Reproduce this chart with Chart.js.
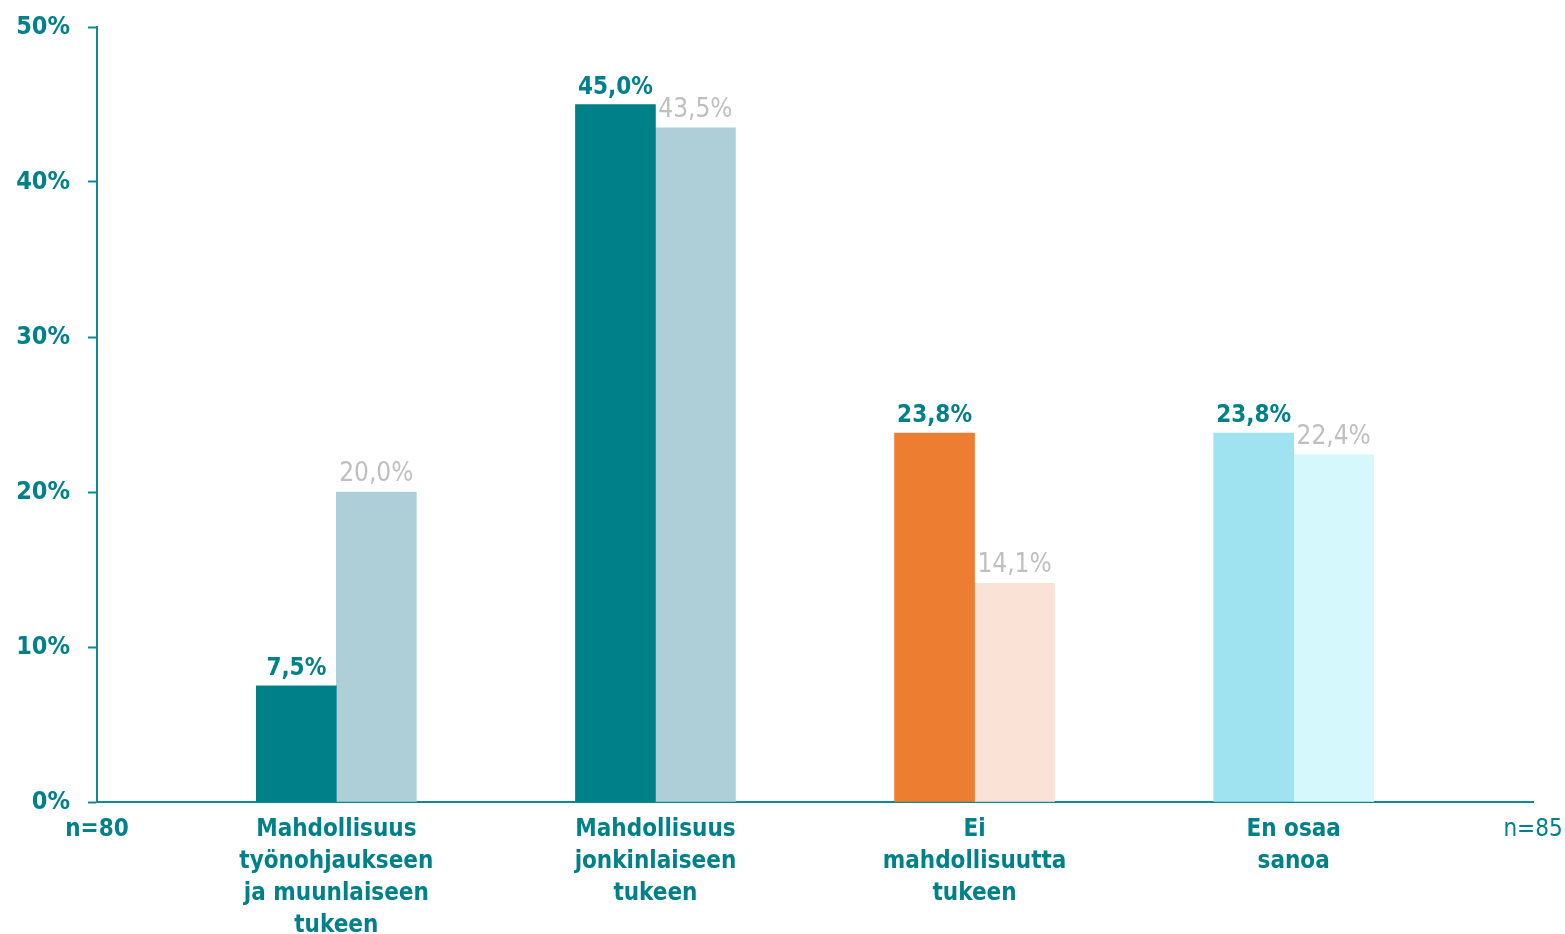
<!DOCTYPE html>
<html>
<head>
<meta charset="utf-8">
<script src="https://cdn.jsdelivr.net/npm/chart.js@4.4.1/dist/chart.umd.min.js"></script>
<style>
    body { margin: 0; background: #fff; }
    #wrap { width: 1565px; height: 934px; position: relative; }
</style>
</head>
<body>
<div id="wrap"><canvas id="chart"></canvas></div>
<script>
// Data
const categories = [
    ['Mahdollisuus', 'työnohjaukseen', 'ja muunlaiseen', 'tukeen'],
    ['Mahdollisuus', 'jonkinlaiseen', 'tukeen'],
    ['Ei', 'mahdollisuutta', 'tukeen'],
    ['En osaa', 'sanoa']
];
const groupA = [7.5, 45.0, 23.8, 23.8];   // n=80
const groupB = [20.0, 43.5, 14.1, 22.4];  // n=85
const groupLabels = ['n=80', 'n=85'];
const yTicks = [0, 10, 20, 30, 40, 50];

const TEAL = '#00818A';
const AXIS = '#13878F';
const GREY = '#BFBFBF';
const FONT = "'DejaVu Sans Condensed', 'Liberation Sans', Arial, sans-serif";

const colorsA = [TEAL, TEAL, '#ED7D31', '#9FE2F0'];
const colorsB = ['#AECFD8', '#AECFD8', '#FBE2D6', '#D5F8FC'];

const xPos = categories.map((c, i) => i + 1);
const xMin = 0.25, xMax = 4.75;

// Value labels above bars
const valueLabels = {
    id: 'valueLabels',
    afterDatasetsDraw(chart) {
        const ctx = chart.ctx;
        ctx.save();
        ctx.textAlign = 'center';
        ctx.textBaseline = 'bottom';
        chart.data.datasets.forEach((ds, di) => {
            const meta = chart.getDatasetMeta(di);
            ctx.font = di === 0 ? 'bold 24px ' + FONT : '26px ' + FONT;
            ctx.fillStyle = di === 0 ? TEAL : GREY;
            meta.data.forEach((bar, i) => {
                const v = ds.data[i].y.toFixed(1).replace('.', ',') + '%';
                ctx.fillText(v, bar.x, bar.y - 5);
            });
        });
        ctx.restore();
    }
};

const ctx = document.getElementById('chart');
new Chart(ctx, {
    type: 'bar',
    data: {
        datasets: [{
            label: groupLabels[0],
            data: groupA.map((v, i) => ({ x: xPos[i], y: v })),
            backgroundColor: colorsA,
            barThickness: 80
        }, {
            label: groupLabels[1],
            data: groupB.map((v, i) => ({ x: xPos[i], y: v })),
            backgroundColor: colorsB,
            barThickness: 80
        }]
    },
    options: {
        responsive: true,
        maintainAspectRatio: false,
        animation: false,
        layout: { padding: { top: 27, right: 32, left: 0, bottom: 0 } },
        plugins: {
            legend: { display: false },
            tooltip: { enabled: false }
        },
        scales: {
            x: {
                type: 'linear',
                offset: false,
                min: xMin,
                max: xMax,
                afterBuildTicks: scale => {
                    scale.ticks = [xMin].concat(xPos, [xMax]).map(v => ({ value: v }));
                },
                afterFit: scale => {
                    scale.height = 132;
                    scale.paddingLeft = 0;
                    scale.paddingRight = 0;
                },
                grid: { display: false, drawTicks: false },
                border: { display: true, color: AXIS, width: 2 },
                ticks: {
                    autoSkip: false,
                    maxRotation: 0,
                    padding: 12,
                    color: TEAL,
                    font: c => ({
                        family: FONT,
                        size: 24,
                        weight: c.tick && c.tick.value === xMax ? 'normal' : 'bold',
                        lineHeight: 1.33
                    }),
                    callback: v => {
                        if (v === xMin) return groupLabels[0];
                        if (v === xMax) return groupLabels[1];
                        return categories[Math.round(v) - 1];
                    }
                }
            },
            y: {
                min: 0,
                max: 50,
                afterBuildTicks: scale => {
                    scale.ticks = yTicks.map(v => ({ value: v }));
                },
                afterFit: scale => {
                    scale.width = 97;
                    scale.paddingTop = 14;
                    scale.paddingBottom = 14;
                },
                grid: {
                    drawOnChartArea: false,
                    drawTicks: true,
                    tickLength: 9,
                    tickWidth: 2,
                    color: AXIS
                },
                border: { display: true, color: AXIS, width: 2 },
                ticks: {
                    padding: 18,
                    color: TEAL,
                    font: { family: FONT, size: 25, weight: 'bold' },
                    callback: v => v + '%'
                }
            }
        }
    },
    plugins: [valueLabels]
});
</script>
</body>
</html>
